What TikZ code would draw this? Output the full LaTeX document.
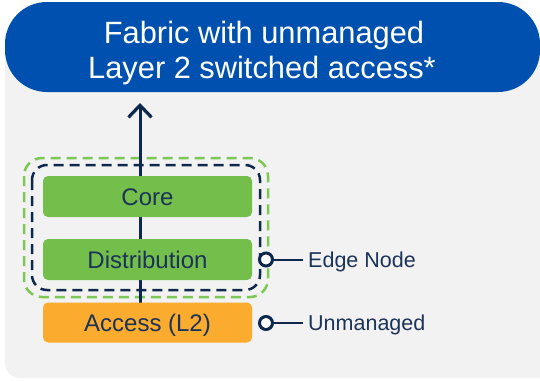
\documentclass[tikz,border=0pt]{standalone}
\usepackage{fontspec}
\setmainfont{Liberation Sans}
\usetikzlibrary{arrows.meta}
\definecolor{ciscoblue}{HTML}{0051AF}
\definecolor{navy}{HTML}{0D274D}
\definecolor{boxgreen}{HTML}{74BF4B}
\definecolor{boxorange}{HTML}{FBAB2D}
\definecolor{panelgray}{HTML}{F2F2F2}
\definecolor{dashgreen}{HTML}{7DC855}
\definecolor{labelnavy}{HTML}{1B3358}
\begin{document}
\begin{tikzpicture}[x=1pt,y=-1pt,
  layerbox/.style={rounded corners=5pt, minimum width=209pt, minimum height=41pt,
    inner sep=0pt, text=labelnavy, font=\fontsize{24}{28}\selectfont,
    text height=17pt, text depth=0pt},
  dot/.style={circle, draw=navy, line width=3pt, fill=white, minimum size=13pt, inner sep=0pt},
  sidelabel/.style={anchor=west, inner xsep=5pt, inner ysep=0pt, text=labelnavy,
    font=\fontsize{21.5}{25}\selectfont, text height=15.5pt, text depth=0pt},
  titletext/.style={anchor=base, inner sep=0pt, text=white, font=\fontsize{30.8}{36}\selectfont},
  leader/.style={navy, line width=2pt},
  dashbox/.style={line width=2.5pt, dash pattern=on 10pt off 6pt}
]
\useasboundingbox (0,0) rectangle (540,380);
\fill[white] (0,0) rectangle (540,380);
% gray panel
\fill[panelgray, rounded corners=15pt] (5,47) rectangle (580,378);
% title pill
\fill[ciscoblue, rounded corners=42pt] (5,2) rectangle (540,92);
\node[titletext] (t1) at (264,43) {Fabric with unmanaged};
\node[titletext] (t2) at (262,78) {Layer 2 switched access*};
% dashed groups
\draw[dashbox, dashgreen, rounded corners=18pt] (24,158) rectangle (268,297);
\draw[dashbox, navy, rounded corners=15pt] (32,165) rectangle (260,290);
% arrow
\coordinate (tip) at (140,103);
\coordinate (base) at (140,303);
\draw[navy, line width=3pt, -{Straight Barb[length=12pt, width=23pt, line width=3.2pt]}] (base) -- (tip);
% layer boxes
\node[layerbox, fill=boxgreen] (core) at (147.5,196.5) {Core};
\node[layerbox, fill=boxgreen] (dist) at (147.5,259.5) {Distribution};
\node[layerbox, fill=boxorange, minimum height=40pt] (acc) at (147.5,322.5) {Access (L2)};
% side labels
\node[dot] (c1) at (266,259.5) {};
\node[dot] (c2) at (266,323) {};
\node[sidelabel] (edge) at (303,259.5) {Edge Node};
\node[sidelabel] (unm) at (303,323) {Unmanaged};
\draw[leader] (c1.east) -- (edge.west);
\draw[leader] (c2.east) -- (unm.west);
\end{tikzpicture}
\end{document}
